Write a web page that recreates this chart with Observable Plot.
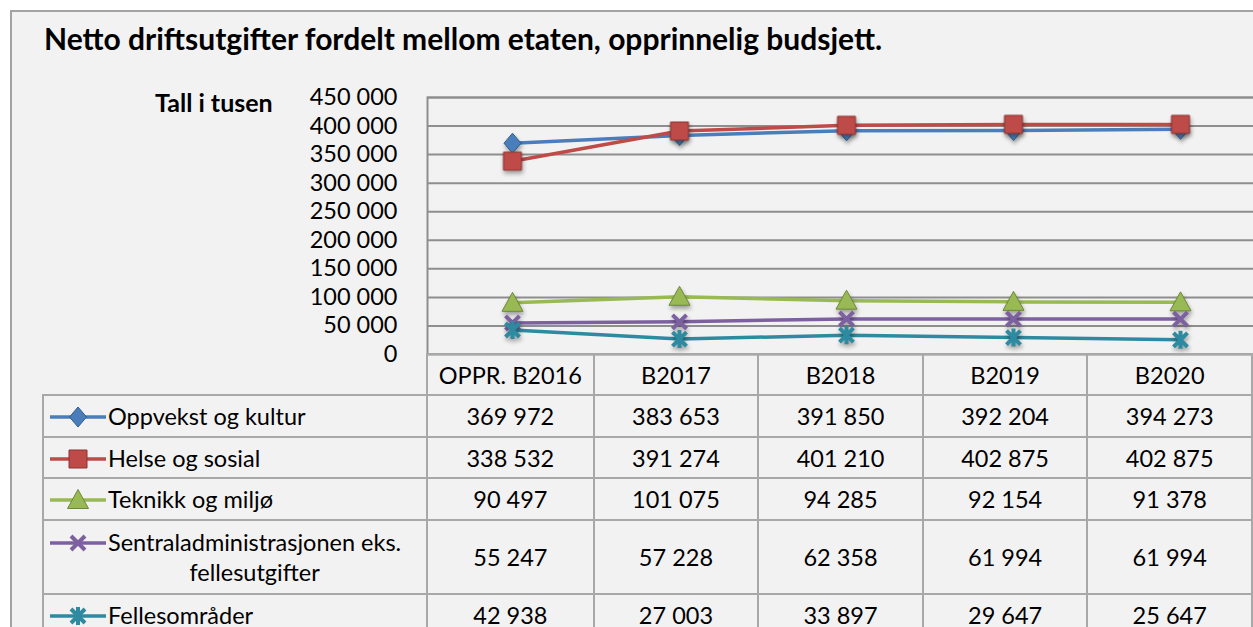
<!DOCTYPE html>
<html><head><meta charset="utf-8">
<script src="https://cdn.jsdelivr.net/npm/d3@7"></script>
<script src="https://cdn.jsdelivr.net/npm/@observablehq/plot@0.6"></script>
<style>
html,body{margin:0;padding:0;background:#fff;overflow:hidden;width:1253px;height:627px;}
body{font-family:Lato,"Open Sans",sans-serif;color:#000;position:relative;}
#frame{position:absolute;left:10px;top:10px;width:1300px;height:700px;border:2px solid #a3a3a3;background:#f2f2f2;box-sizing:border-box;}
#title{position:absolute;left:44px;top:23px;font-weight:bold;font-size:30px;line-height:1;white-space:nowrap;}
#unit{position:absolute;left:155px;top:90px;font-weight:bold;font-size:25px;line-height:1;white-space:nowrap;}
#chart{position:absolute;left:0;top:0;width:1300px;}
#chart svg{max-width:none !important;}
#tbl{position:absolute;left:42px;top:353px;border-collapse:collapse;table-layout:fixed;font-size:23.5px;}
#tbl td{border:2px solid #a8a8a8;padding:0;text-align:center;vertical-align:middle;white-space:nowrap;line-height:30px;}
#tbl td.lab{text-align:left;padding-left:4px;}
#tbl td.blank{border-top:none;border-left:none;}
.lab svg{vertical-align:top;margin-top:5px;}
.lab .txt{display:inline-block;text-align:center;vertical-align:top;}
</style></head>
<body>
<div id="frame"></div>
<div id="title"></div>
<div id="unit"></div>
<div id="chart"></div>
<table id="tbl"></table>
<script>
const titleText = "Netto driftsutgifter fordelt mellom etaten, opprinnelig budsjett.";
const unitText = "Tall i tusen";
const categories = ["OPPR. B2016", "B2017", "B2018", "B2019", "B2020"];
const seriesNames = ["Oppvekst og kultur", "Helse og sosial", "Teknikk og miljø", "Sentraladministrasjonen eks.\nfellesutgifter", "Fellesområder"];
const oppvekst = [369972, 383653, 391850, 392204, 394273];
const helse = [338532, 391274, 401210, 402875, 402875];
const teknikk = [90497, 101075, 94285, 92154, 91378];
const sentral = [55247, 57228, 62358, 61994, 61994];
const felles = [42938, 27003, 33897, 29647, 25647];
const seriesValues = [oppvekst, helse, teknikk, sentral, felles];
const yTicks = [0, 50000, 100000, 150000, 200000, 250000, 300000, 350000, 400000, 450000];
const colors = ["#4a7ebb", "#be4b48", "#98b954", "#7d60a0", "#2e8aa0"];
const edge = ["#2f5b8f", "#8c3330", "#6b8a36", "#7d60a0", "#2e8aa0"];

const fmt = v => d3.format(",")(v).replace(/,/g, " ");

// marker shapes
const symDiamond = {draw(c){c.moveTo(0,-10);c.lineTo(8.5,0);c.lineTo(0,10);c.lineTo(-8.5,0);c.closePath();}};
const symSquare = {draw(c){c.rect(-9,-9,18,18);}};
const symTriangle = {draw(c){c.moveTo(0,-10.5);c.lineTo(10.5,8.5);c.lineTo(-10.5,8.5);c.closePath();}};
const symX = {draw(c){const r=7;c.moveTo(-r,-r);c.lineTo(r,r);c.moveTo(-r,r);c.lineTo(r,-r);}};
const symStar = {draw(c){const r=7;c.moveTo(-r,-r);c.lineTo(r,r);c.moveTo(-r,r);c.lineTo(r,-r);c.moveTo(0,-9);c.lineTo(0,9);}};
const symbols = [symDiamond, symSquare, symTriangle, symX, symStar];
const strokeOnly = [false, false, false, true, true];

document.getElementById("title").textContent = titleText;
document.getElementById("unit").textContent = unitText;

const rows = [];
seriesValues.forEach((vals, i) => vals.forEach((v, j) => rows.push({s: i, cat: categories[j], value: v})));

const marks = [
  Plot.ruleY(yTicks.filter(d => d > 0), {stroke: "#8e8e8e", strokeWidth: 2}),
  Plot.frame({stroke: "#8e8e8e", strokeWidth: 2}),
  Plot.axisY({ticks: yTicks, tickFormat: fmt, tickSize: 0, tickPadding: 30, fontSize: 23.5, label: null})
];
seriesValues.forEach((vals, i) => {
  const data = rows.filter(d => d.s === i);
  marks.push(Plot.line(data, {x: "cat", y: "value", stroke: colors[i], strokeWidth: 3.5}));
  marks.push(Plot.dot(data, strokeOnly[i]
    ? {x: "cat", y: "value", symbol: symbols[i], r: 5, fill: "none", stroke: colors[i], strokeWidth: 4}
    : {x: "cat", y: "value", symbol: symbols[i], r: 5, fill: colors[i], stroke: edge[i], strokeWidth: 1}));
});

const W = 1270;
const chart = Plot.plot({
  width: W, height: 372,
  marginLeft: 427, marginRight: W - 1264.5, marginTop: 97, marginBottom: 18,
  style: {background: "transparent", fontFamily: "Lato, 'Open Sans', sans-serif", fontSize: "23.5px", color: "#000", overflow: "visible", maxWidth: "none"},
  x: {type: "point", domain: categories, padding: 0.5, axis: null},
  y: {domain: [0, 450000], axis: null},
  marks
});
chart.style.maxWidth = "none";
d3.select(chart).selectAll('g[aria-label="dot"]').style("filter", "drop-shadow(1px 3px 2px rgba(0,0,0,0.35))");
document.getElementById("chart").appendChild(chart);

// data table below the chart
const tbl = d3.select("#tbl");
const cg = tbl.append("colgroup");
cg.append("col").style("width", "385px");
categories.forEach(() => cg.append("col").style("width", "167.5px"));
const hdr = tbl.append("tr").style("height", "41px");
hdr.append("td").attr("class", "blank");
categories.forEach(c => hdr.append("td").text(c));
const rowH = ["42px", "41px", "42px", "74px", "42px"];
seriesNames.forEach((name, i) => {
  const tr = tbl.append("tr").style("height", rowH[i]);
  const lab = tr.append("td").attr("class", "lab");
  const svg = lab.append("svg").attr("width", 60).attr("height", 22);
  svg.append("line").attr("x1", 2).attr("x2", 58).attr("y1", 11).attr("y2", 11).attr("stroke", colors[i]).attr("stroke-width", 3.5);
  const p = d3.path(); symbols[i].draw(p);
  svg.append("path").attr("d", p.toString()).attr("transform", "translate(30,11)")
    .attr("fill", strokeOnly[i] ? "none" : colors[i]).attr("stroke", strokeOnly[i] ? colors[i] : edge[i])
    .attr("stroke-width", strokeOnly[i] ? 4 : 1);
  const t = lab.append("span").attr("class", "txt");
  name.split("\n").forEach((ln, k) => { if (k) t.append("br"); t.append("span").text(ln); });
  seriesValues[i].forEach(v => tr.append("td").text(fmt(v)));
});
</script>
</body></html>
